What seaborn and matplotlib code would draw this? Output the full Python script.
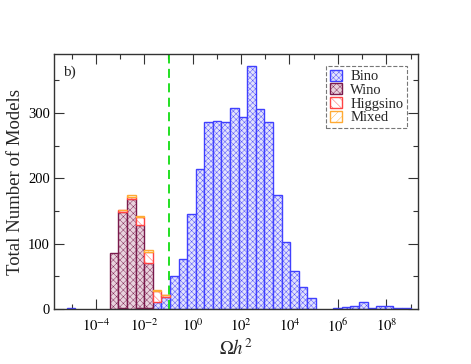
import numpy as np
import pandas as pd
import matplotlib
matplotlib.use('Agg')
import matplotlib.pyplot as plt
from matplotlib.patches import Patch
from matplotlib.ticker import MultipleLocator, FixedLocator
import seaborn as sns

# histogram bins in log10(Omega h^2)
bin_lo, bin_hi, n_bins = -5.2, 9.0, 40

# counts per bin
bino = [1, 0, 0, 0, 0, 0, 2, 0, 2, 1,
        10, 18, 51, 77, 145, 214, 286, 287, 286, 307,
        293, 372, 306, 286, 175, 102, 58, 34, 17, 0,
        0, 1, 3, 5, 10, 2, 4, 4, 1, 1]
wino = [0, 0, 0, 0, 0, 86, 147, 168, 126, 70,
        0, 0, 0, 0, 0, 0, 0, 0, 0, 0,
        0, 0, 0, 0, 0, 0, 0, 0, 0, 0,
        0, 0, 0, 0, 0, 0, 0, 0, 0, 0]
higgsino = [0, 0, 0, 0, 0, 0, 2, 3, 13, 16,
            17, 3, 0, 0, 0, 0, 0, 0, 0, 0,
            0, 0, 0, 0, 0, 0, 0, 0, 0, 0,
            0, 0, 0, 0, 0, 0, 0, 0, 0, 0]
mixed = [0, 0, 0, 0, 0, 0, 1, 3, 2, 4,
         2, 1, 0, 0, 0, 0, 0, 0, 0, 0,
         0, 0, 0, 0, 0, 0, 0, 0, 0, 0,
         0, 0, 0, 0, 0, 0, 0, 0, 0, 0]

wmap = 0.11   # relic density line

names = ['Bino', 'Wino', 'Higgsino', 'Mixed']
styles = {
    'Bino':     dict(fc='#e2e2fb', ec='#4040ff', hatch='xxxxxx'),
    'Wino':     dict(fc='#e8d2dd', ec='#7a1a4c', hatch='xxxxx'),
    'Higgsino': dict(fc='white', ec='#ff4444', hatch='\\\\\\\\'),
    'Mixed':    dict(fc='white', ec='#ffaa33', hatch='////'),
}

bw = (bin_hi - bin_lo) / n_bins
centers = bin_lo + bw * (np.arange(n_bins) + 0.5)

frames = []
for nm, cnt in zip(names, [bino, wino, higgsino, mixed]):
    frames.append(pd.DataFrame({'logomega': centers, 'count': cnt, 'type': nm}))
df = pd.concat(frames, ignore_index=True)

sns.set_style('ticks')
plt.rcParams['font.family'] = ['Liberation Serif', 'DejaVu Serif']
plt.rcParams['mathtext.fontset'] = 'stix'
plt.rcParams['hatch.linewidth'] = 0.3

fig = plt.figure(figsize=(4.71, 3.64), dpi=100)
ax = fig.add_axes([0.1146, 0.1511, 0.7729, 0.7005])

# first hue level ends on top of the stack in seaborn
pal = {'Bino': '#0000fe', 'Wino': '#fe0000', 'Higgsino': '#00fe00', 'Mixed': '#fefe00'}
sns.histplot(data=df, x='logomega', weights='count', hue='type',
             hue_order=names[::-1], palette=pal, multiple='stack',
             binwidth=bw, binrange=(bin_lo, bin_hi), ax=ax, legend=False)

col2name = {matplotlib.colors.to_hex(v): k for k, v in pal.items()}
for p in ax.patches:
    nm = col2name.get(matplotlib.colors.to_hex(p.get_facecolor()[:3]))
    if nm is None:
        continue
    st = styles[nm]
    p.set_facecolor(st['fc'])
    p.set_edgecolor(st['ec'])
    p.set_hatch(st['hatch'])
    p.set_alpha(1)
    p.set_linewidth(1.0)
    if p.get_height() == 0:
        p.set_visible(False)

ax.axvline(np.log10(wmap), color='#11dd11', ls=(0, (5, 3)), lw=1.3)

ax.set_xlim(-5.73, 9.31)
ax.set_ylim(0, 390)
ax.xaxis.set_major_locator(FixedLocator([-4, -2, 0, 2, 4, 6, 8]))
ax.xaxis.set_minor_locator(FixedLocator([-5, -3, -1, 1, 3, 5, 7, 9]))
ax.set_xticklabels([r'$10^{%d}$' % v for v in [-4, -2, 0, 2, 4, 6, 8]])
ax.yaxis.set_major_locator(MultipleLocator(100))
ax.yaxis.set_minor_locator(MultipleLocator(50))
ax.tick_params(which='both', direction='in', top=True, right=True,
               labelsize=10.5, colors='#333333', labelcolor='black')
ax.tick_params(which='major', length=7, width=0.8)
ax.tick_params(which='minor', length=3.5, width=0.8)
ax.tick_params(axis='x', which='major', pad=6)
ax.tick_params(axis='y', which='major', pad=3)
for s in ax.spines.values():
    s.set_color('#333333')
    s.set_linewidth(1.0)

ax.set_xlabel(r'$\Omega h^2$', fontsize=13.5, labelpad=3)
ax.set_ylabel('Total Number of Models', fontsize=13.5, labelpad=3)
ax.text(0.025, 0.955, 'b)', transform=ax.transAxes, fontsize=11, va='top')

handles = [Patch(facecolor=styles[n]['fc'], edgecolor=styles[n]['ec'],
                 hatch=styles[n]['hatch'], label=n) for n in names]
leg = ax.legend(handles=handles, loc='upper right', bbox_to_anchor=(0.97, 0.953),
                borderaxespad=0, fancybox=False, fontsize=10.5, handlelength=0.8,
                handleheight=0.8, labelspacing=0.0, handletextpad=0.6,
                borderpad=0.25)
leg.get_frame().set_linestyle('--')
leg.get_frame().set_edgecolor('#555555')
leg.get_frame().set_linewidth(0.8)

fig.savefig('out.png', dpi=100)
